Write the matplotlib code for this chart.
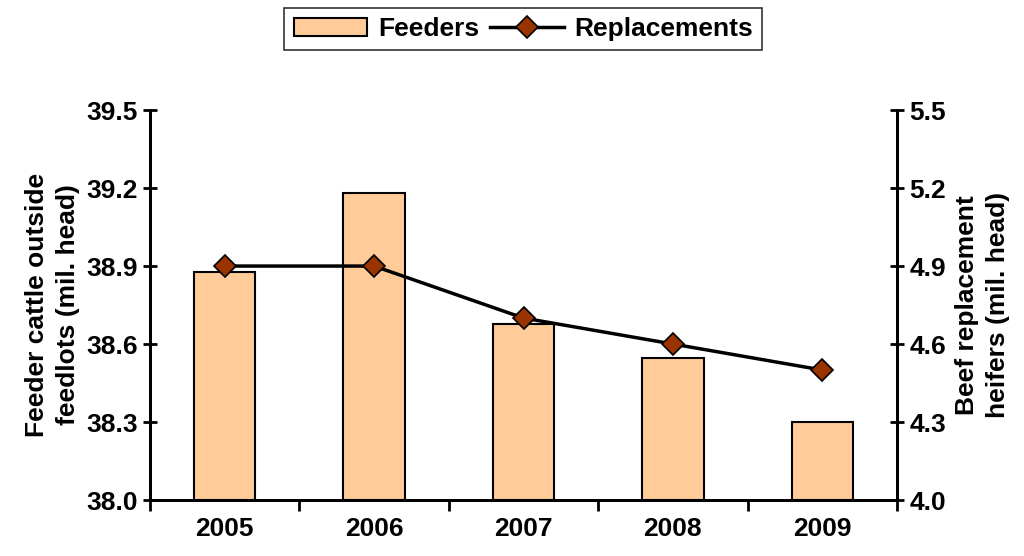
import matplotlib.pyplot as plt
from matplotlib.ticker import FixedLocator

plt.rcParams['font.family'] = ['Liberation Sans', 'DejaVu Sans']
plt.rcParams['font.weight'] = 'bold'

years = ['2005', '2006', '2007', '2008', '2009']
feeders = [38.877, 39.18, 38.677, 38.546, 38.30]
replacements = [4.9, 4.9, 4.7, 4.6, 4.5]

fig = plt.figure(figsize=(10.24, 5.56), dpi=100)
ax = fig.add_axes([0.1465, 0.1007, 0.7295, 0.7013])
ax2 = ax.twinx()

x = list(range(len(years)))
bars = ax.bar(x, [f - 38.0 for f in feeders], bottom=38.0, width=0.41,
              color='#FFCC99', edgecolor='black', linewidth=1.5, label='Feeders')
line, = ax2.plot(x, replacements, color='black', linewidth=2.5, marker='D',
                 markersize=11, markerfacecolor='#993300', markeredgecolor='black',
                 markeredgewidth=1.2, label='Replacements')

ax.set_xlim(-0.5, 4.5)
ax.set_ylim(38.0, 39.5)
ax2.set_ylim(4.0, 5.5)
ax.set_yticks([38.0, 38.3, 38.6, 38.9, 39.2, 39.5])
ax2.set_yticks([4.0, 4.3, 4.6, 4.9, 5.2, 5.5])
ax.set_yticklabels(['38.0', '38.3', '38.6', '38.9', '39.2', '39.5'])
ax2.set_yticklabels(['4.0', '4.3', '4.6', '4.9', '5.2', '5.5'])

ax.set_xticks(x)
ax.set_xticklabels(years)
ax.tick_params(axis='x', which='major', length=0, labelsize=19, pad=12)
ax.xaxis.set_minor_locator(FixedLocator([-0.5, 0.5, 1.5, 2.5, 3.5, 4.5]))
ax.tick_params(axis='x', which='minor', length=8, width=2, direction='out')
ax.tick_params(axis='y', length=10, width=2, direction='inout', labelsize=19, pad=4)
ax2.tick_params(axis='y', length=10, width=2, direction='inout', labelsize=19, pad=4)

for a in (ax, ax2):
    a.spines['top'].set_visible(False)
    for s in ('left', 'right', 'bottom'):
        a.spines[s].set_linewidth(2)

ax.set_ylabel('Feeder cattle outside\nfeedlots (mil. head)', fontsize=19,
              fontweight='bold', labelpad=4, linespacing=1.4)
ax2.set_ylabel('Beef replacement\nheifers (mil. head)', fontsize=19,
               fontweight='bold', labelpad=6, linespacing=1.4)

leg = fig.legend([bars, line], ['Feeders', 'Replacements'], loc='center',
                 bbox_to_anchor=(0.511, 0.9475), ncol=2, fontsize=19, frameon=True,
                 fancybox=False, edgecolor='black', handlelength=2.8,
                 columnspacing=0.4, handletextpad=0.4, borderpad=0.35)
leg.get_frame().set_linewidth(1.2)

fig.savefig('out.png', dpi=100)
